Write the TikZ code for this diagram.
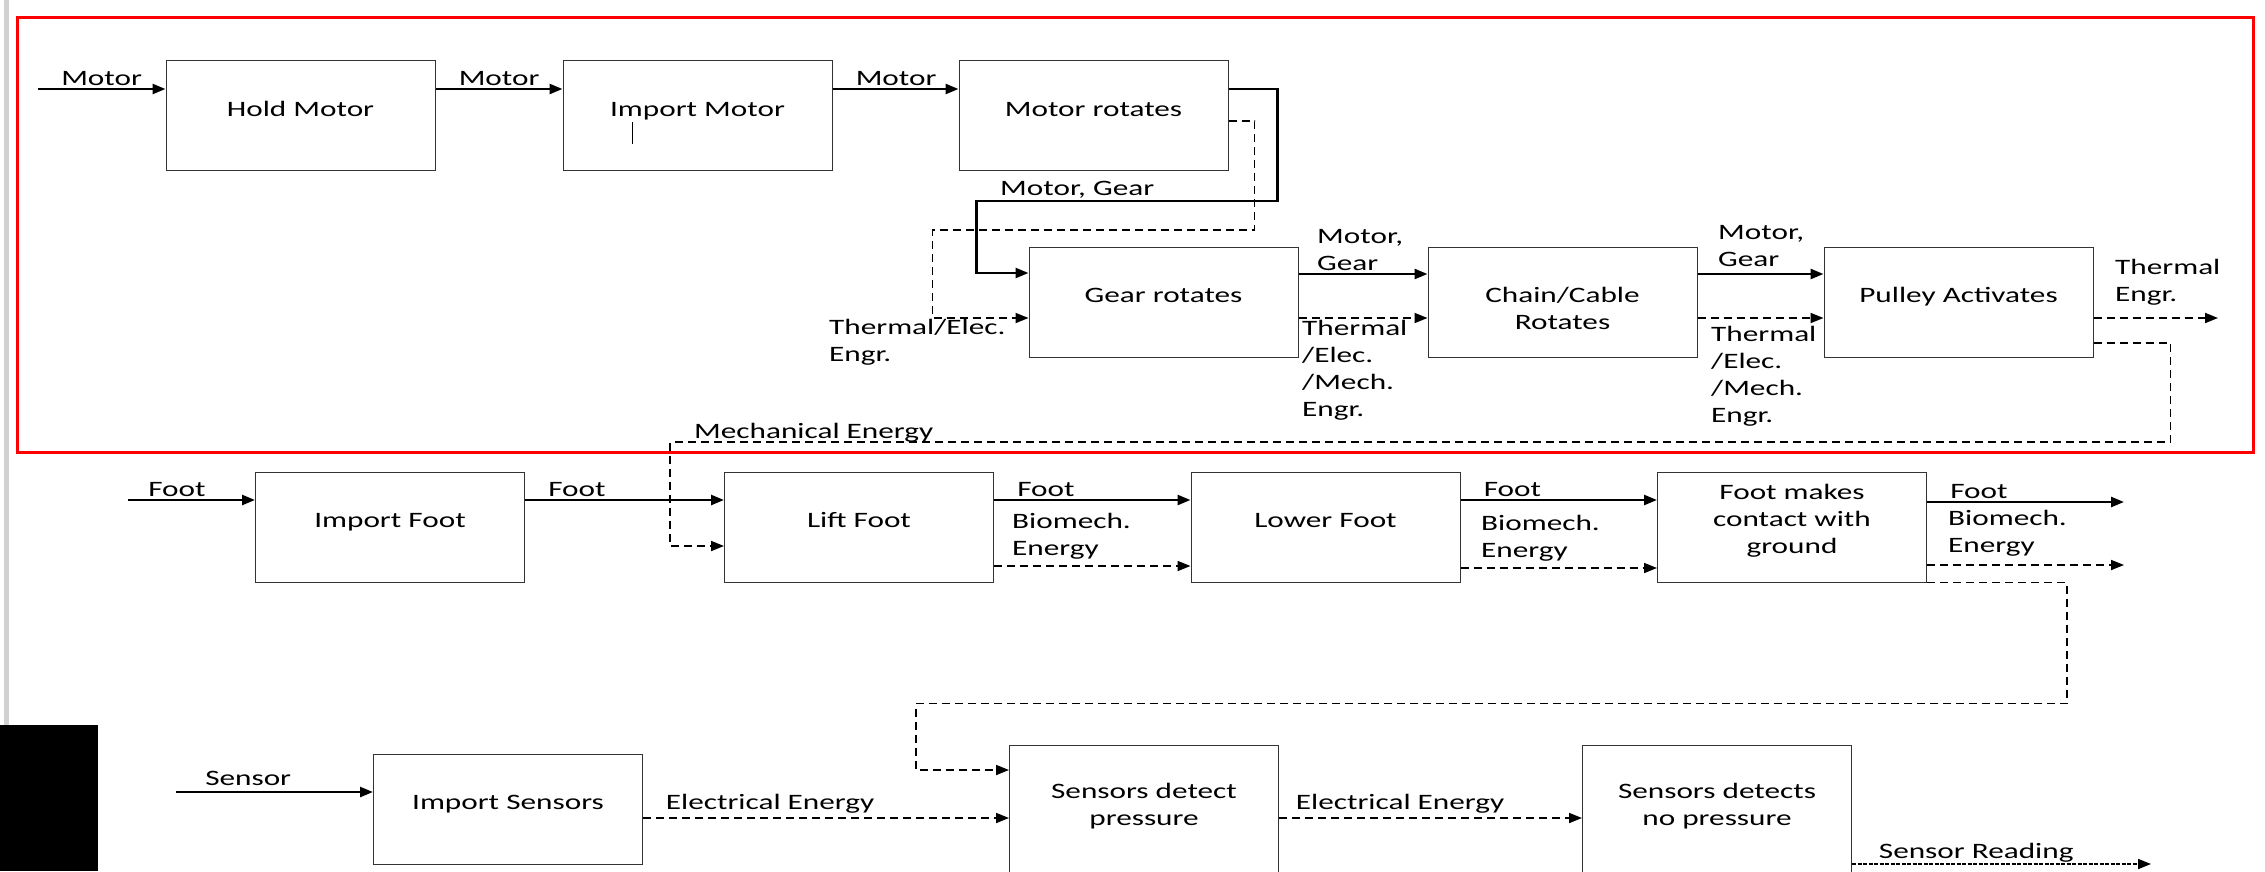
\documentclass[tikz,border=0pt]{standalone}
\usepackage{fontspec}
\setmainfont{Carlito}[FakeStretch=1.42]
\usepackage{tikz}
\usetikzlibrary{arrows.meta}

\begin{document}
\begin{tikzpicture}[x=1pt,y=-1pt,
  font=\fontsize{22}{27}\selectfont,
  blk/.style={draw=black!80,line width=1pt,minimum height=110pt,minimum width=269pt,align=center,inner sep=0pt},
  one/.style={text height=15pt,text depth=14pt},
  flow/.style={line width=2.5pt,-{Triangle[length=13pt,width=10pt]}},
  eflow/.style={line width=1.8pt,dash pattern=on 8pt off 5pt,-{Triangle[length=13pt,width=10pt]}},
  tag/.style={above right,pos=0,xshift=20pt,inner sep=2pt},
  note/.style={align=left,anchor=west,inner sep=0pt}]
  \useasboundingbox (0,0) rectangle (2265,871);
  \clip (0,0) rectangle (2265,871);
  \fill[black!18] (4,0) rectangle (9,725);
  \fill[black] (0,725) rectangle (98,871);
  \draw[red,line width=3pt] (17,17) rectangle (2253,452);

  \node[blk,one] (hold) at (300.5,115.5) {Hold Motor};
  \node[blk,one] (impmotor) at (697.5,115.5) {Import Motor};
  \node[blk,one] (rotmotor) at (1093.5,115.5) {Motor rotates};
  \node[blk,one] (gear) at (1163.5,302) {Gear rotates};
  \node[blk] (chain) at (1562.5,302) {\rule{0pt}{28pt}Chain/Cable\\Rotates};
  \node[blk,one] (pulley) at (1958.5,302) {Pulley Activates};
  \node[blk,one] (impfoot) at (390,527) {Import Foot};
  \node[blk,one] (lift) at (859,527) {Lift Foot};
  \node[blk,one] (lower) at (1325.5,527) {Lower Foot};
  \node[blk] (contact) at (1792,527) {Foot makes\\contact with\\ground\rule[-17pt]{0pt}{17pt}};
  \node[blk,one] (impsens) at (508,809) {Import Sensors};
  \node[blk,minimum height=135pt] (press) at (1144,812.5) {Sensors detect\\pressure\rule[-16pt]{0pt}{16pt}};
  \node[blk,minimum height=135pt] (nopress) at (1717,812.5) {Sensors detects\\no pressure\rule[-16pt]{0pt}{16pt}};
  \draw[line width=1pt] (632,122) -- (632,144);

  \coordinate (motorin) at (38,89);
  \draw[flow] (motorin) -- node[tag]{Motor} (motorin -| hold.west);
  \draw[flow] ([yshift=26.5pt]hold.east) -- node[tag]{Motor} ([yshift=26.5pt]impmotor.west);
  \draw[flow] ([yshift=26.5pt]impmotor.east) -- node[tag]{Motor} ([yshift=26.5pt]rotmotor.west);
  \draw[flow] ([yshift=26.5pt]rotmotor.east) -- ++(49,0) -- ++(0,112) -| ([xshift=-52pt,yshift=29pt]gear.west) -- ([yshift=29pt]gear.west);
  \node[note] (lmotorgear) at (1000,190) {Motor, Gear};
  \draw[eflow] ([yshift=-5.5pt]rotmotor.east) -- ++(26,0) -- ++(0,109) -| ([xshift=-96pt,yshift=-16pt]gear.west) -- ([yshift=-16pt]gear.west);
  \node[note] (lthermal1) at (829,342.5) {Thermal/Elec.\\Engr.};

  \draw[flow] ([yshift=28pt]gear.east) -- ([yshift=28pt]chain.west);
  \draw[eflow] ([yshift=-16pt]gear.east) -- ([yshift=-16pt]chain.west);
  \node[note] (lmotorgear2) at (1317,250) {Motor,\\Gear};
  \node[note] (lthermal2) at (1302,370) {Thermal\\/Elec.\\/Mech.\\Engr.};
  \draw[flow] ([yshift=28pt]chain.east) -- ([yshift=28pt]pulley.west);
  \draw[eflow] ([yshift=-16pt]chain.east) -- ([yshift=-16pt]pulley.west);
  \node[note] (lmotorgear3) at (1718,246) {Motor,\\Gear};
  \node[note] (lthermal3) at (1711,376) {Thermal\\/Elec.\\/Mech.\\Engr.};
  \coordinate (pulleyout) at (2218,318);
  \draw[eflow] ([yshift=-16pt]pulley.east) -- (pulleyout);
  \node[note] (lthermal4) at (2115,282) {Thermal\\Engr.};
  \draw[eflow] ([yshift=-41pt]pulley.east) -- ++(77,0) -- ++(0,99) -| ([xshift=-54pt,yshift=-19pt]lift.west) -- ([yshift=-19pt]lift.west);
  \node[note] (lmech) at (694,433) {Mechanical Energy};

  \coordinate (footin) at (128,500);
  \draw[flow] (footin) -- node[tag,xshift=-3pt]{Foot} (footin -| impfoot.west);
  \draw[flow] ([yshift=27pt]impfoot.east) -- node[tag]{Foot} ([yshift=27pt]lift.west);
  \draw[flow] ([yshift=27pt]lift.east) -- node[tag]{Foot} ([yshift=27pt]lower.west);
  \draw[eflow] ([yshift=-39pt]lift.east) -- ([yshift=-39pt]lower.west);
  \node[note] (lbio1) at (1012,536.5) {Biomech.\\Energy};
  \draw[flow] ([yshift=27pt]lower.east) -- node[tag]{Foot} ([yshift=27pt]contact.west);
  \draw[eflow] ([yshift=-41pt]lower.east) -- ([yshift=-41pt]contact.west);
  \node[note] (lbio2) at (1481,538.5) {Biomech.\\Energy};
  \coordinate (footout) at (2124,502);
  \coordinate (bioout) at (2124,565);
  \draw[flow] ([yshift=25pt]contact.east) -- node[tag]{Foot} (footout);
  \draw[eflow] ([yshift=-38pt]contact.east) -- (bioout);
  \node[note] (lbio3) at (1948,533.5) {Biomech.\\Energy};
  \draw[eflow] (contact.south east) -- ++(140,0) -- ++(0,121) -| ([xshift=-93pt,yshift=42.5pt]press.west) -- ([yshift=42.5pt]press.west);

  \coordinate (sensin) at (176,792);
  \draw[flow] (sensin) -- node[tag,xshift=6pt,yshift=3pt]{Sensor} (sensin -| impsens.west);
  \draw[eflow] ([yshift=-9pt]impsens.east) -- node[tag,yshift=2pt]{Electrical Energy} ([yshift=-9pt]impsens.east -| press.west);
  \draw[eflow] ([yshift=-5.5pt]press.east) -- node[tag,xshift=-6pt,yshift=2pt]{Electrical Energy} ([yshift=-5.5pt]nopress.west);
  \coordinate (sensout) at (2151,864);
  \draw[eflow,dash pattern=on 4pt off 1.5pt] ([yshift=-51.5pt]nopress.east) -- node[tag,xshift=4pt,yshift=-1pt]{Sensor Reading} (sensout);
\end{tikzpicture}
\end{document}
